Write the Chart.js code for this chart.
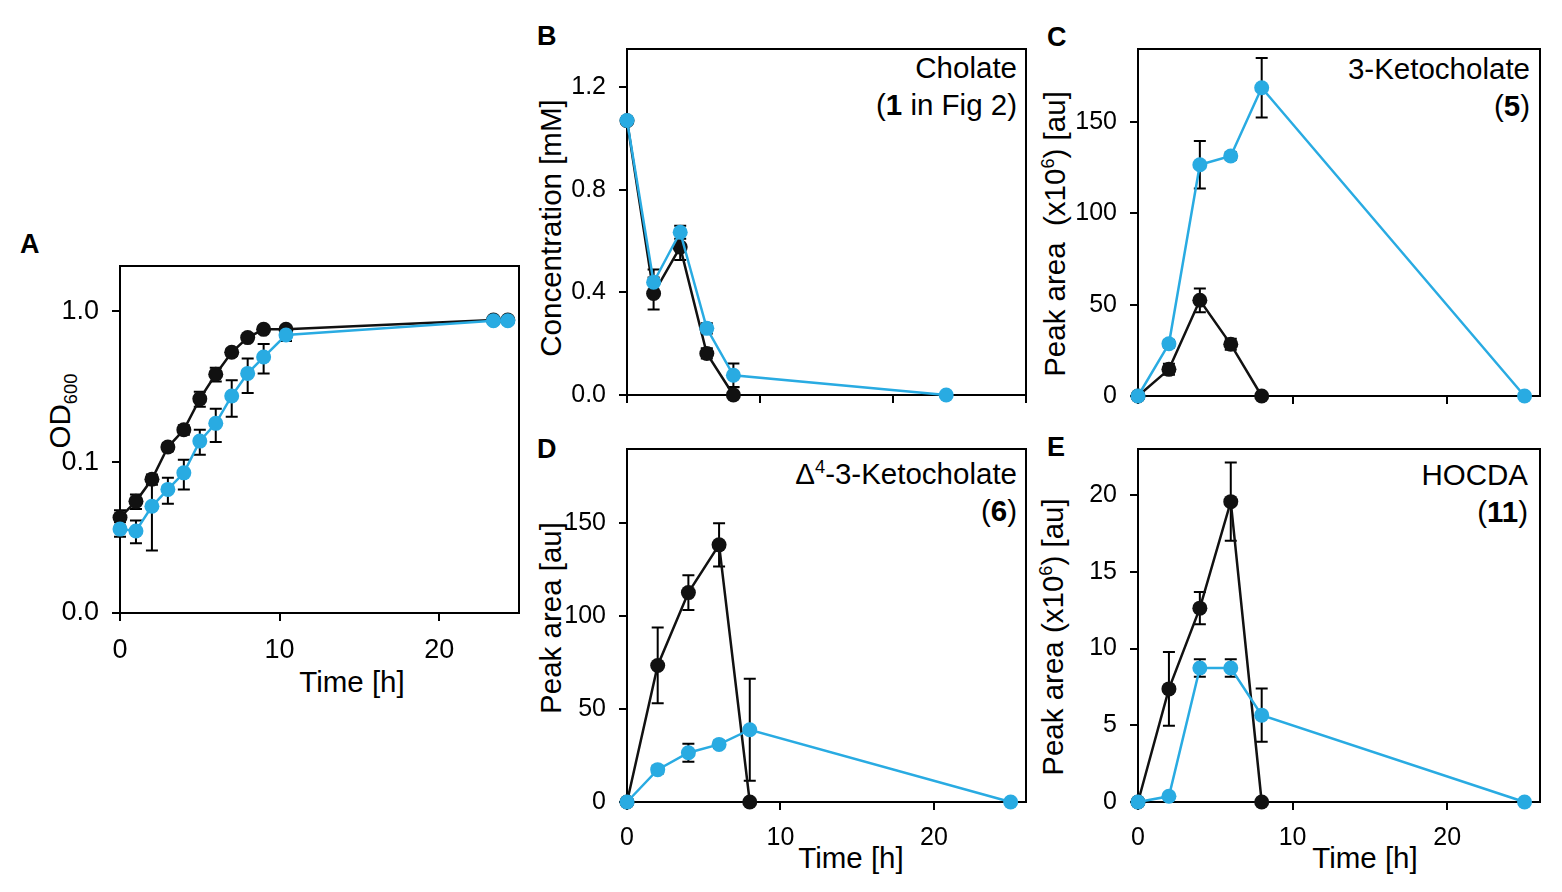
<!DOCTYPE html>
<html lang="en">
<head>
<meta charset="UTF-8">
<title>Cholate degradation time course</title>
<style>
  html, body { margin: 0; padding: 0; background: #fff; }
  body { width: 1562px; height: 892px; position: relative; overflow: hidden;
         font-family: "Liberation Sans", Arial, sans-serif; color: #000; }
  canvas { position: absolute; }
  .lbl { position: absolute; white-space: nowrap; }
  .panel { font-weight: bold; font-size: 27px; line-height: 27px; }
  .cmp { font-size: 29.5px; line-height: 37px; text-align: right; }
  .xt { font-size: 29.5px; line-height: 29.5px; transform: translateX(-50%); }
  .yt { font-size: 29.5px; line-height: 29.5px; transform: translate(-50%, -50%) rotate(-90deg); }
  sup, sub { font-size: 0.62em; line-height: 0; }
</style>
</head>
<body>

<div class="lbl panel" style="left:20px; top:231px;">A</div>
<div class="lbl panel" style="left:537px; top:23px;">B</div>
<div class="lbl panel" style="left:1047px; top:24px;">C</div>
<div class="lbl panel" style="left:537px; top:436px;">D</div>
<div class="lbl panel" style="left:1047px; top:434px;">E</div>

<div class="lbl cmp" style="right:545px; top:49px;">Cholate<br>(<b>1</b> in Fig 2)</div>
<div class="lbl cmp" style="right:32px; top:50px;">3-Ketocholate<br>(<b>5</b>)</div>
<div class="lbl cmp" style="right:545px; top:455px;">&Delta;<sup>4</sup>-3-Ketocholate<br>(<b>6</b>)</div>
<div class="lbl cmp" style="right:34px; top:456px;">HOCDA<br>(<b>11</b>)</div>

<div class="lbl xt" style="left:352px; top:667px;">Time [h]</div>
<div class="lbl xt" style="left:851px; top:843px;">Time [h]</div>
<div class="lbl xt" style="left:1365px; top:843px;">Time [h]</div>

<div class="lbl yt" style="left:60px; top:411px;">OD<sub>600</sub></div>
<div class="lbl yt" style="left:551px; top:228px;">Concentration [mM]</div>
<div class="lbl yt" style="left:1055px; top:234px;">Peak area&nbsp; (x10<sup>6</sup>) [au]</div>
<div class="lbl yt" style="left:551px; top:618px;">Peak area [au]</div>
<div class="lbl yt" style="left:1053px; top:637px;">Peak area (x10<sup>6</sup>) [au]</div>

<script src="https://cdn.jsdelivr.net/npm/chart.js@4.4.1/dist/chart.umd.min.js"></script>
<script>
// ---- data ----
// A: growth, OD600
const timeA = [0, 1, 2, 3, 4, 5, 6, 7, 8, 9, 10.4, 23.4, 24.3];
const odBlack = [0.043, 0.055, 0.077, 0.126, 0.164, 0.263, 0.383, 0.536, 0.67, 0.76, 0.76, 0.877, 0.877];
const odBlackErr = [0.005, 0.006, 0.006, 0.008, 0.012, 0.03, 0.04, 0.03, 0.03, 0.02, 0.02, 0.02, 0.02];
const odBlue = [0.036, 0.035, 0.051, 0.066, 0.085, 0.138, 0.181, 0.275, 0.388, 0.498, 0.697, 0.867, 0.867];
const odBlueErr = [0.004, 0.006, 0.025, 0.013, 0.019, 0.026, 0.045, 0.075, 0.1, 0.11, 0.06, 0.02, 0.02];
const xTicksA = [0, 10, 20];
const yTicksA = [0.01, 0.1, 1];
const yLabelsA = ['0.0', '0.1', '1.0'];

// B: cholate
const timeBlackB = [0, 2, 4, 6, 8];
const timeBlueB = [0, 2, 4, 6, 8, 24];
const cholBlack = [1.07, 0.396, 0.577, 0.162, 0.0];
const cholBlackErr = [0.01, 0.062, 0.05, 0.02, 0.03];
const cholBlue = [1.071, 0.44, 0.635, 0.26, 0.077, 0.0];
const cholBlueErr = [0.01, 0.05, 0.025, 0.02, 0.046, 0];
const xTicksB = [0, 10, 20, 30];
const yTicksB = [0, 0.4, 0.8, 1.2];
const yLabelsB = ['0.0', '0.4', '0.8', '1.2'];

// C, D, E: shared time points
const timeBlack = [0, 2, 4, 6, 8];
const timeBlue = [0, 2, 4, 6, 8, 25];
const xTicksCDE = [0, 10, 20];

const ketoBlack = [0, 14.6, 52.4, 28.3, 0];
const ketoBlackErr = [0, 3, 6.5, 3, 0];
const ketoBlue = [0, 28.6, 126.6, 131.4, 168.8, 0];
const ketoBlueErr = [0, 2, 13, 2, 16.3, 0];
const yTicksC = [0, 50, 100, 150];

const d4Black = [0, 73.5, 112.7, 138.4, 0];
const d4BlackErr = [0, 20.4, 9.4, 11.6, 0];
const d4Blue = [0, 17.4, 26.5, 31, 38.9, 0];
const d4BlueErr = [0, 2, 4.8, 2, 27.4, 0];
const yTicksD = [0, 50, 100, 150];

const hocdaBlack = [0, 7.37, 12.63, 19.57, 0];
const hocdaBlackErr = [0, 2.4, 1.05, 2.55, 0];
const hocdaBlue = [0, 0.37, 8.73, 8.73, 5.66, 0];
const hocdaBlueErr = [0, 0.1, 0.57, 0.57, 1.73, 0];
const yTicksE = [0, 5, 10, 15, 20];

// ---- styling ----
const FONT = '"Liberation Sans", Arial, sans-serif';
const BLACK = '#111111';
const BLUE = '#29abe2';

// error bars drawn through the chart's own scales
const errorBars = {
    id: 'errorBars',
    beforeDatasetsDraw(chart) {
        const ctx = chart.ctx;
        const xs = chart.scales.x, ys = chart.scales.y;
        ctx.save();
        ctx.strokeStyle = '#000';
        ctx.lineWidth = 2;
        chart.data.datasets.forEach(function (ds) {
            if (!ds.errors) return;
            ds.data.forEach(function (p, i) {
                const e = ds.errors[i];
                if (!e) return;
                const x = xs.getPixelForValue(p.x);
                const yTop = ys.getPixelForValue(p.y + e);
                const yBot = ys.getPixelForValue(Math.max(p.y - e, ys.min));
                ctx.beginPath();
                ctx.moveTo(x, yTop); ctx.lineTo(x, yBot);
                ctx.moveTo(x - 6, yTop); ctx.lineTo(x + 6, yTop);
                if (p.y - e > ys.min) { ctx.moveTo(x - 6, yBot); ctx.lineTo(x + 6, yBot); }
                ctx.stroke();
            });
        });
        ctx.restore();
    }
};

// closed box around the plot area
const frame = {
    id: 'frame',
    beforeDatasetsDraw(chart) {
        const a = chart.chartArea, ctx = chart.ctx;
        ctx.save();
        ctx.strokeStyle = '#000';
        ctx.lineWidth = 2;
        ctx.strokeRect(a.left, a.top, a.right - a.left, a.bottom - a.top);
        ctx.restore();
    }
};

function series(xs, ys, errs, color, order) {
    return {
        data: xs.map(function (x, i) { return { x: x, y: ys[i] }; }),
        errors: errs,
        borderColor: color,
        backgroundColor: color,
        pointBackgroundColor: color,
        borderWidth: 2.5,
        pointRadius: 7.5,
        pointBorderWidth: 0,
        tension: 0,
        clip: false,
        order: order
    };
}

function tickFont(size) {
    return { color: '#000', font: { family: FONT, size: size || 25 }, padding: 13, maxRotation: 0, autoSkip: false };
}

function axis(extra) {
    return Object.assign({
        border: { display: true, color: '#000', width: 2 },
        grid: { drawOnChartArea: false, drawTicks: true, tickLength: 8, color: '#000', lineWidth: 2 },
        ticks: tickFont()
    }, extra);
}

// box = plot area in page pixels
function makePanel(box, xOpts, yOpts, datasets) {
    const L = 80, T = 34, R = 30, B = 60;
    const cv = document.createElement('canvas');
    cv.width = box.w + L + R;
    cv.height = box.h + T + B;
    cv.style.left = (box.x - L) + 'px';
    cv.style.top = (box.y - T) + 'px';
    document.body.appendChild(cv);

    const x = axis(xOpts);
    x.type = 'linear';
    x.position = 'bottom';
    x.afterFit = function (s) { s.height = B; };
    const y = axis(yOpts);
    y.position = 'left';
    y.afterFit = function (s) { s.width = L; };

    return new Chart(cv, {
        type: 'line',
        data: { datasets: datasets },
        options: {
            responsive: false,
            animation: false,
            layout: { padding: { top: T, right: R, left: 0, bottom: 0 } },
            plugins: { legend: { display: false }, tooltip: { enabled: false } },
            scales: { x: x, y: y }
        },
        plugins: [frame, errorBars]
    });
}

function fixedTicks(values) {
    return function (s) { s.ticks = values.map(function (v) { return { value: v }; }); };
}

// A
makePanel({ x: 120, y: 266, w: 399, h: 347 },
    { min: 0, max: 25, afterBuildTicks: fixedTicks(xTicksA), ticks: tickFont(27) },
    { type: 'logarithmic', min: 0.01, max: 2, afterBuildTicks: fixedTicks(yTicksA),
      ticks: Object.assign(tickFont(27), { callback: function (v, i) { return yLabelsA[i]; } }) },
    [series(timeA, odBlue, odBlueErr, BLUE, 1), series(timeA, odBlack, odBlackErr, BLACK, 2)]);

// B
makePanel({ x: 627, y: 49, w: 399, h: 346 },
    { min: 0, max: 30, afterBuildTicks: fixedTicks(xTicksB), ticks: Object.assign(tickFont(), { display: false }) },
    { type: 'linear', min: 0, max: 1.35, afterBuildTicks: fixedTicks(yTicksB),
      ticks: Object.assign(tickFont(), { callback: function (v, i) { return yLabelsB[i]; } }) },
    [series(timeBlueB, cholBlue, cholBlueErr, BLUE, 1), series(timeBlackB, cholBlack, cholBlackErr, BLACK, 2)]);

// C
makePanel({ x: 1138, y: 49, w: 402, h: 347 },
    { min: 0, max: 26, afterBuildTicks: fixedTicks(xTicksCDE), ticks: Object.assign(tickFont(), { display: false }) },
    { type: 'linear', min: 0, max: 190, afterBuildTicks: fixedTicks(yTicksC) },
    [series(timeBlue, ketoBlue, ketoBlueErr, BLUE, 1), series(timeBlack, ketoBlack, ketoBlackErr, BLACK, 2)]);

// D
makePanel({ x: 627, y: 449, w: 399, h: 353 },
    { min: 0, max: 26, afterBuildTicks: fixedTicks(xTicksCDE) },
    { type: 'linear', min: 0, max: 190, afterBuildTicks: fixedTicks(yTicksD) },
    [series(timeBlue, d4Blue, d4BlueErr, BLUE, 1), series(timeBlack, d4Black, d4BlackErr, BLACK, 2)]);

// E
makePanel({ x: 1138, y: 449, w: 402, h: 353 },
    { min: 0, max: 26, afterBuildTicks: fixedTicks(xTicksCDE) },
    { type: 'linear', min: 0, max: 23, afterBuildTicks: fixedTicks(yTicksE) },
    [series(timeBlue, hocdaBlue, hocdaBlueErr, BLUE, 1), series(timeBlack, hocdaBlack, hocdaBlackErr, BLACK, 2)]);
</script>
</body>
</html>
